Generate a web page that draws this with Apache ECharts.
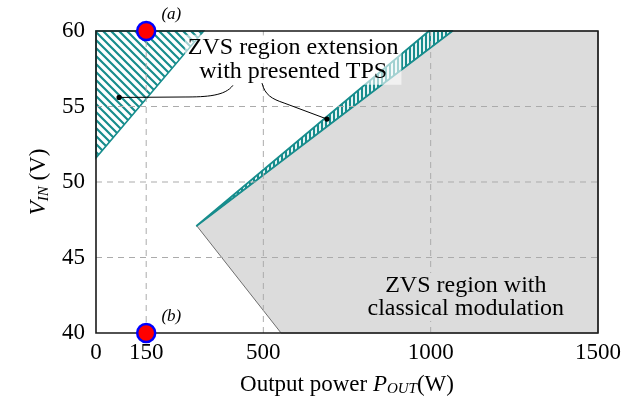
<!DOCTYPE html>
<html>
<head>
<meta charset="utf-8">
<script src="https://cdn.jsdelivr.net/npm/echarts@6/dist/echarts.min.js"></script>
<style>
html, body { margin: 0; padding: 0; background: #fff; }
#chart { width: 638px; height: 403px; }
</style>
</head>
<body>
<div id="chart"></div>
<script>
// P_OUT in W, V_IN in V
const xTicks = [0, 150, 500, 1000, 1500];
const xGrid = [150, 500, 1000];
const yGrid = [45, 50, 55];
const classicalRegion = [[301, 47.1], [1065, 60], [1500, 60], [1500, 40], [553, 40]];
const extensionStrip = [[301, 47.1], [995, 60], [1065, 60]];
const extensionCorner = [[0, 60], [0, 51.6], [322, 60]];
const opPoints = [[150, 60], [150, 40]];
const opNames = ['(a)', '(b)'];
// bezier start, cp1, cp2, end, then straight to the dot
const leaderLeft = [[409, 56.4], [386, 55.7], [330, 55.63], [266, 55.63], [69, 55.6]];
const leaderRight = [[496, 56.55], [505, 55.75], [526, 55.5], [562, 55.23], [690, 54.17]];
const tpsLabelAt = [589, 58.1];
const classicalLabelAt = [1105, 42.38];

const TEAL = '#178d8d';
const FONT = 'Liberation Serif';

function pattern(w, h, draw) {
  const c = document.createElement('canvas');
  c.width = w; c.height = h;
  const ctx = c.getContext('2d');
  ctx.strokeStyle = TEAL;
  draw(ctx);
  return {image: c, repeat: 'repeat'};
}
const diagHatch = pattern(8, 8, ctx => {
  ctx.lineWidth = 2.2;
  ctx.beginPath();
  ctx.moveTo(-2, -2); ctx.lineTo(10, 10);
  ctx.moveTo(-2, 6); ctx.lineTo(10, 18);
  ctx.moveTo(6, -2); ctx.lineTo(18, 10);
  ctx.stroke();
});
const vertHatch = pattern(4, 4, ctx => {
  ctx.lineWidth = 2.2;
  ctx.beginPath();
  ctx.moveTo(2, 0); ctx.lineTo(2, 4);
  ctx.stroke();
});

function polygon(points, style, z) {
  return {
    type: 'custom', coordinateSystem: 'cartesian2d', z: z, silent: true,
    data: [[0, 40]],
    renderItem: (params, api) => ({
      type: 'polygon',
      shape: {points: points.map(p => api.coord(p))},
      style: style
    })
  };
}

function leader(pts, api) {
  const c = pts.map(p => api.coord(p));
  return [{
    type: 'bezierCurve',
    shape: {x1: c[0][0], y1: c[0][1], cpx1: c[1][0], cpy1: c[1][1], cpx2: c[2][0], cpy2: c[2][1], x2: c[3][0], y2: c[3][1]},
    style: {stroke: '#000', fill: null, lineWidth: 1}
  }, {
    type: 'line',
    shape: {x1: c[3][0], y1: c[3][1], x2: c[4][0], y2: c[4][1]},
    style: {stroke: '#000', lineWidth: 1}
  }, {
    type: 'circle',
    shape: {cx: c[4][0], cy: c[4][1], r: 2.6},
    style: {fill: '#000'}
  }];
}

const rich = {
  r: {fontFamily: FONT, fontSize: 23, color: '#000'},
  i: {fontFamily: FONT, fontSize: 23, fontStyle: 'italic', color: '#000'},
  s: {fontFamily: FONT, fontSize: 15, fontStyle: 'italic', color: '#000', padding: [10, 0, 0, 0]}
};

const chart = echarts.init(document.getElementById('chart'));
chart.setOption({
  animation: false,
  grid: {
    left: 96, right: 40, top: 31, bottom: 70, outerBoundsMode: 'none', containLabel: false,
    show: true, borderColor: '#1a1a1a', borderWidth: 1.6, backgroundColor: 'transparent', z: 10
  },
  xAxis: {
    type: 'value', min: 0, max: 1500,
    name: '{r|Output power }{i|P}{s|OUT}{r|(W)}',
    nameLocation: 'middle', nameGap: 39,
    nameTextStyle: {rich: rich},
    axisLine: {show: false}, axisTick: {show: false}, splitLine: {show: false},
    axisLabel: {customValues: xTicks, formatter: v => String(v), fontFamily: FONT, fontSize: 23, color: '#000', margin: 8}
  },
  yAxis: {
    type: 'value', min: 40, max: 60, interval: 5,
    name: '{i|V}{s|IN}{r| (V)}',
    nameLocation: 'middle', nameGap: 44, nameRotate: 90,
    nameTextStyle: {rich: rich},
    axisLine: {show: false}, axisTick: {show: false}, splitLine: {show: false},
    axisLabel: {fontFamily: FONT, fontSize: 23, color: '#000', margin: 11}
  },
  series: [
    polygon(classicalRegion, {fill: '#dcdcdc', stroke: '#6e6e6e', lineWidth: 1}, 2),
    polygon(extensionStrip, {fill: vertHatch, stroke: TEAL, lineWidth: 1.8, lineJoin: 'round'}, 3),
    polygon(extensionCorner, {fill: diagHatch, stroke: TEAL, lineWidth: 1.5}, 3),
    {
      type: 'custom', coordinateSystem: 'cartesian2d', z: 4, silent: true,
      data: [[0, 40]],
      renderItem: (params, api) => {
        const children = [];
        const dash = {stroke: '#ababab', lineWidth: 1, lineDash: [6, 5]};
        xGrid.forEach(v => {
          const a = api.coord([v, 40]), b = api.coord([v, 60]);
          children.push({type: 'line', shape: {x1: a[0], y1: a[1], x2: b[0], y2: b[1]}, style: dash});
        });
        yGrid.forEach(v => {
          const a = api.coord([0, v]), b = api.coord([1500, v]);
          children.push({type: 'line', shape: {x1: a[0], y1: a[1], x2: b[0], y2: b[1]}, style: dash});
        });
        return {type: 'group', children: children};
      }
    },
    {
      type: 'scatter', z: 5, symbolSize: 0, silent: true,
      itemStyle: {opacity: 1},
      data: [tpsLabelAt],
      label: {
        show: true, position: 'inside',
        formatter: 'ZVS region extension\nwith presented TPS',
        fontFamily: FONT, fontSize: 24, lineHeight: 24, color: '#000',
        backgroundColor: 'rgba(255,255,255,0.6)', padding: [1, 3]
      }
    },
    {
      type: 'scatter', z: 5, symbolSize: 0, silent: true,
      itemStyle: {opacity: 1},
      data: [classicalLabelAt],
      label: {
        show: true, position: 'inside',
        formatter: 'ZVS region with\nclassical modulation',
        fontFamily: FONT, fontSize: 24, lineHeight: 23, color: '#000',
        backgroundColor: '#dcdcdc', padding: [1, 3]
      }
    },
    {
      type: 'custom', coordinateSystem: 'cartesian2d', z: 6, silent: true,
      data: [[0, 40]],
      renderItem: (params, api) => ({
        type: 'group',
        children: leader(leaderLeft, api).concat(leader(leaderRight, api))
      })
    },
    {
      type: 'scatter', z: 20, silent: true,
      symbolSize: 18,
      itemStyle: {color: '#ff0000', borderColor: '#0000ff', borderWidth: 2.5, opacity: 1},
      data: opPoints.map((p, i) => ({value: p, name: opNames[i]})),
      label: {
        show: true, position: 'right', offset: [0, -16],
        formatter: '{b}', fontFamily: FONT, fontStyle: 'italic', fontSize: 17, color: '#000'
      }
    }
  ]
});
</script>
</body>
</html>
